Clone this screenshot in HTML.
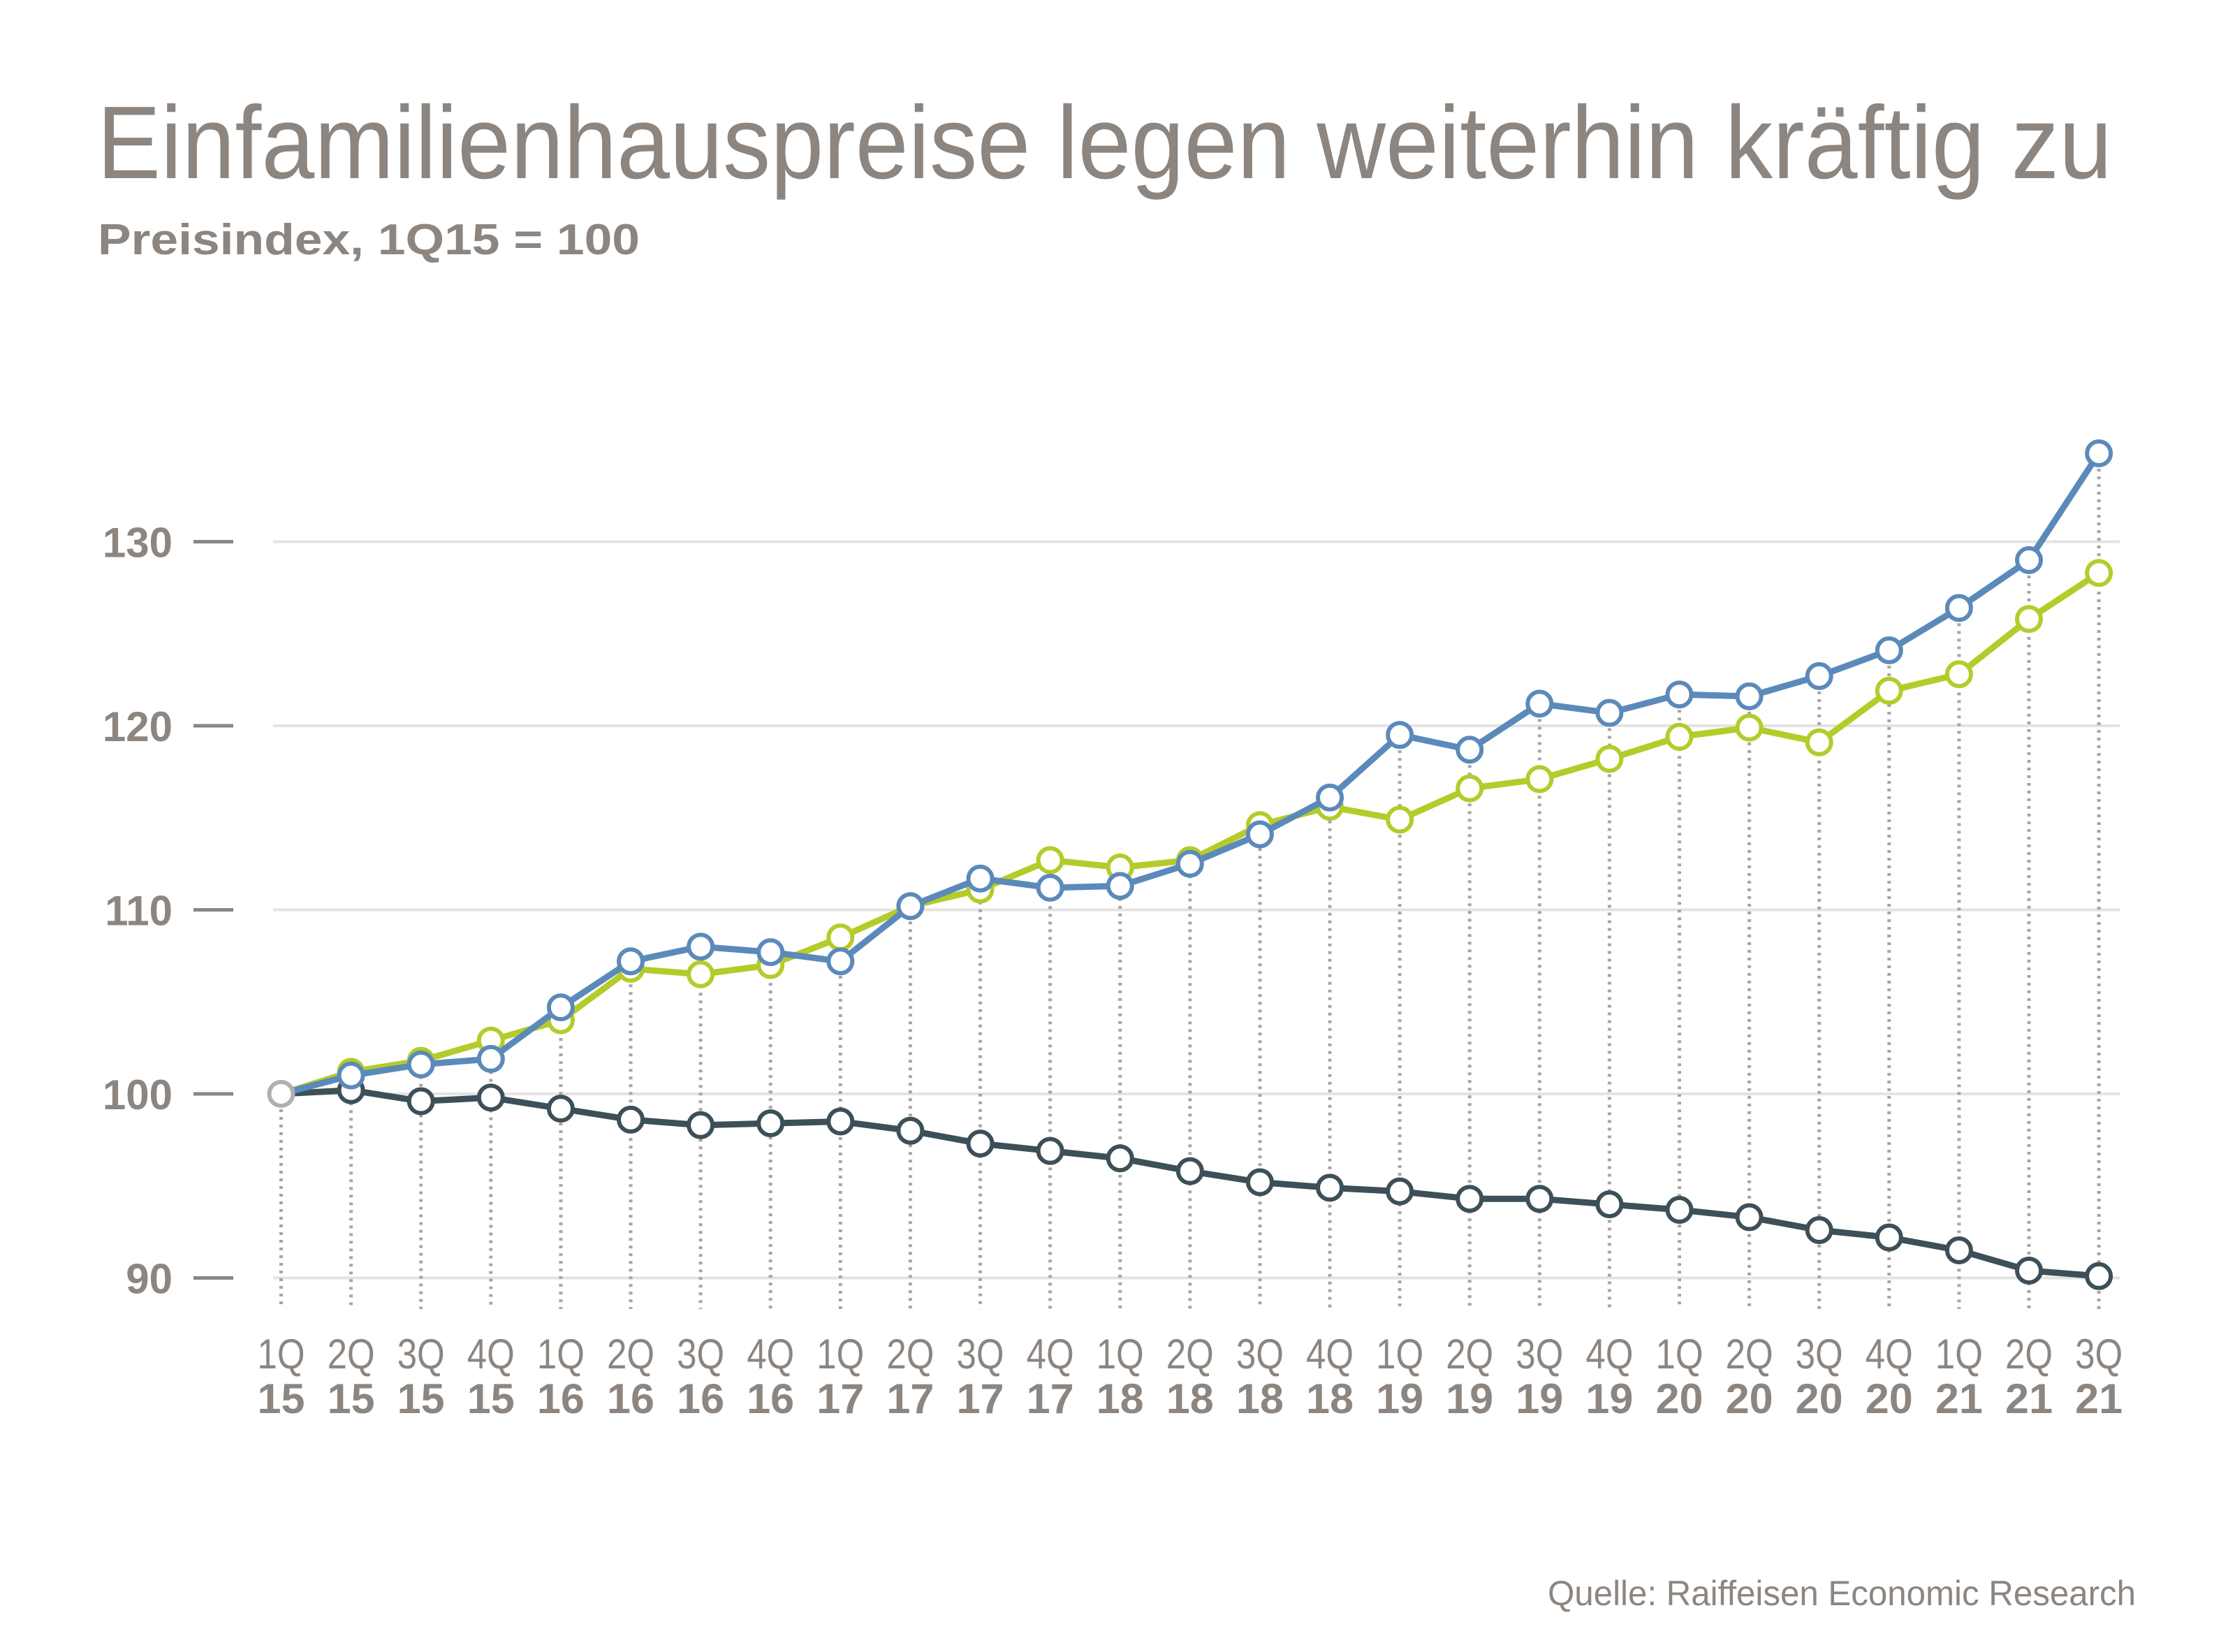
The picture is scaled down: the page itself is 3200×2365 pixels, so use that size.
<!DOCTYPE html>
<html><head><meta charset="utf-8"><style>
html,body{margin:0;padding:0;background:#fff;}
svg{display:block;}
</style></head><body>
<svg id="c" width="3200" height="2365" viewBox="0 0 3200 2365" xmlns="http://www.w3.org/2000/svg" font-family="'Liberation Sans', sans-serif">
<text x="139" y="255" font-size="148" fill="#8c8580" textLength="2885" lengthAdjust="spacingAndGlyphs">Einfamilienhauspreise legen weiterhin kräftig zu</text>
<text x="140" y="364" font-size="62" font-weight="bold" fill="#8c8580" textLength="776" lengthAdjust="spacingAndGlyphs">Preisindex, 1Q15 = 100</text>
<text x="3058" y="2298" font-size="50" fill="#8c8580" text-anchor="end" textLength="842" lengthAdjust="spacingAndGlyphs">Quelle: Raiffeisen Economic Research</text>
<g id="g"></g>
</svg>
<script>
var g=document.getElementById('g'),h='';
function Y(v){return 1566-(v-100)*26.35;}
function X(i){return 402.5+i*100.1;}
var blue=[100,101.0,101.6,101.9,104.7,107.2,108.0,107.7,107.2,110.2,111.7,111.2,111.3,112.5,114.1,116.1,119.5,118.7,121.2,120.7,121.7,121.6,122.7,124.1,126.4,129.0,134.8];
var green=[100,101.2,101.8,102.9,104.0,106.8,106.5,107.0,108.5,110.2,111.1,112.7,112.3,112.7,114.6,115.6,114.9,116.6,117.1,118.2,119.4,119.9,119.1,121.9,122.8,125.8,128.3];
var dark=[100,100.2,99.6,99.8,99.2,98.6,98.3,98.4,98.5,98.0,97.3,96.9,96.5,95.8,95.2,94.9,94.7,94.3,94.3,94.0,93.7,93.3,92.6,92.2,91.5,90.4,90.1];
[90,100,110,120,130].forEach(function(v){var y=Y(v);
h+='<line x1="391" x2="3035" y1="'+y+'" y2="'+y+'" stroke="#e3e3e3" stroke-width="4"/>';
h+='<line x1="277" x2="334" y1="'+y+'" y2="'+y+'" stroke="#8c8580" stroke-width="5"/>';
h+='<text x="247" y="'+(y+22)+'" font-size="60" font-weight="bold" fill="#8c8580" text-anchor="end">'+v+'</text>';});
var q=['1Q','2Q','3Q','4Q'];
for(var i=0;i<27;i++){var x=X(i),yt=Math.min(Y(blue[i]),Y(green[i]));
h+='<line x1="'+x+'" x2="'+x+'" y1="'+yt+'" y2="1874" stroke="#a6a6a6" stroke-width="5" stroke-dasharray="4 7"/>';
h+='<text x="'+(x-34)+'" y="1959" font-size="60" fill="#8c8580" textLength="68" lengthAdjust="spacingAndGlyphs">'+q[i%4]+'</text>';
h+='<text x="'+(x-34)+'" y="2023" font-size="60" font-weight="bold" fill="#8c8580" textLength="68" lengthAdjust="spacingAndGlyphs">'+(15+Math.floor(i/4))+'</text>';}
function ser(d,c){var p='';d.forEach(function(v,i){p+=(i?'L':'M')+X(i)+','+Y(v);});
h+='<path d="'+p+'" fill="none" stroke="'+c+'" stroke-width="9" stroke-linejoin="round"/>';
d.forEach(function(v,i){if(i==0)return;h+='<circle cx="'+X(i)+'" cy="'+Y(v)+'" r="17" fill="#fff" stroke="'+c+'" stroke-width="6"/>';});}
ser(dark,'#3d4f58');ser(green,'#b5cb2a');ser(blue,'#5b8aba');
h+='<circle cx="'+X(0)+'" cy="'+Y(100)+'" r="17" fill="#fff" stroke="#b0b0b0" stroke-width="6"/>';
g.innerHTML=h;
</script>
</body></html>
